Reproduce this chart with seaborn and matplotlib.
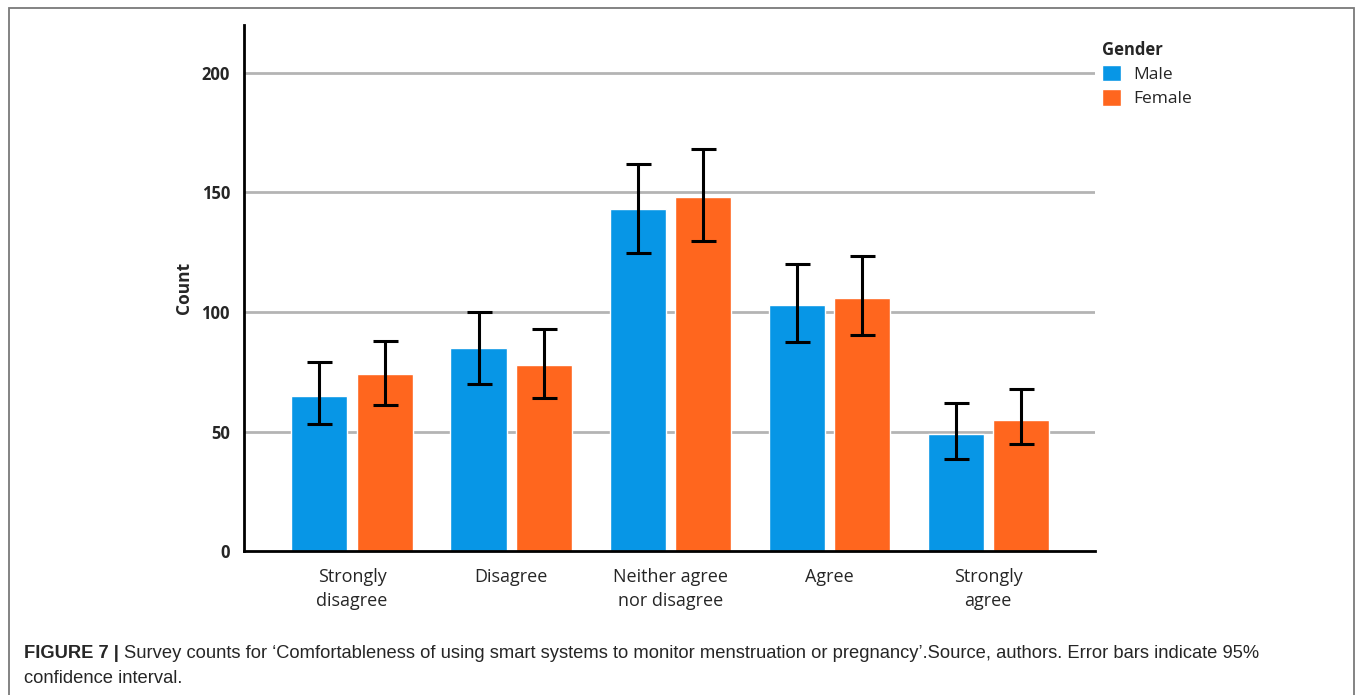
import pandas as pd
import numpy as np
import matplotlib.pyplot as plt
import seaborn as sns
from matplotlib.patches import Rectangle

# --- DATA ---
categories = ["Strongly\ndisagree", "Disagree", "Neither agree\nnor disagree", "Agree", "Strongly\nagree"]
genders = ["Male", "Female"]
male_counts = [65, 85, 143, 103, 49]
female_counts = [74, 78, 148, 106, 55]
male_ci_low = [53, 70, 124.5, 87.5, 38.5]
male_ci_high = [79, 100, 162, 120, 62]
female_ci_low = [61, 64, 129.5, 90.5, 45]
female_ci_high = [88, 93, 168, 123.5, 68]
y_ticks = [0, 50, 100, 150, 200]

palette = {"Male": "#0796E6", "Female": "#FF661E"}

df = pd.DataFrame({
    "Answer": categories * 2,
    "Gender": ["Male"] * len(categories) + ["Female"] * len(categories),
    "Count": male_counts + female_counts,
    "low": male_ci_low + female_ci_low,
    "high": male_ci_high + female_ci_high,
})

sns.set_style("white")
plt.rcParams["font.family"] = ["Open Sans", "DejaVu Sans"]

fig = plt.figure(figsize=(13.55, 6.95), dpi=100)
ax = fig.add_axes([0.180, 0.207, 0.628, 0.757])

sns.barplot(data=df, x="Answer", y="Count", hue="Gender", order=categories,
            hue_order=genders, palette=palette, errorbar=None,
            width=0.82, gap=0.14, saturation=1, ax=ax, zorder=2)

# error bar 95% CI, posisi dari bar seaborn
for container, g in zip(ax.containers, genders):
    sub = df[df["Gender"] == g].set_index("Answer").loc[categories]
    xs = [p.get_x() + p.get_width() / 2 for p in container.patches]
    yerr = [sub["Count"] - sub["low"], sub["high"] - sub["Count"]]
    ax.errorbar(xs, sub["Count"], yerr=yerr, fmt="none", ecolor="black",
                elinewidth=2.2, capsize=9, capthick=2.2, zorder=3)

ax.set_ylim(0, 220)
ax.set_xlim(-0.68, 4.67)
ax.set_yticks(y_ticks)
ax.set_yticklabels([str(t) for t in y_ticks], fontsize=12, fontweight="bold")
ax.tick_params(axis="y", length=0, pad=10)
ax.tick_params(axis="x", length=0, pad=12, labelsize=13)
for lbl in ax.get_xticklabels():
    lbl.set_linespacing(1.45)
ax.set_xlabel("")
ax.set_ylabel("Count", fontsize=12.5, fontweight="bold", labelpad=6)
for t in y_ticks[1:]:
    ax.axhline(t, color="#b4b4b4", lw=2, zorder=1)

for s in ["top", "right"]:
    ax.spines[s].set_visible(False)
for s in ["left", "bottom"]:
    ax.spines[s].set_color("black")
    ax.spines[s].set_linewidth(2)

leg = ax.legend(title="Gender", loc="upper left", bbox_to_anchor=(0.99, 1.0),
                frameon=False, fontsize=12.5, title_fontproperties={"weight": "bold", "size": 12},
                handlelength=1.1, handleheight=1.1, handletextpad=0.7, labelspacing=0.35)
leg._legend_box.align = "left"

# bingkai figure
fig.patches.append(Rectangle((9 / 1355, -0.01), 1345 / 1355, 1 - 8 / 695 + 0.01,
                             transform=fig.transFigure, fill=False,
                             edgecolor="#7a7a7a", lw=1.3))

# caption
fam = ["Liberation Sans", "DejaVu Sans"]
t1 = fig.text(0.0177, 0.053, "FIGURE 7 |", fontsize=13.2, fontweight="bold", family=fam, va="baseline")
fig.canvas.draw()
bb = t1.get_window_extent()
x2 = (bb.x1 + 5) / fig.bbox.width
fig.text(x2, 0.053, "Survey counts for \u2018Comfortableness of using smart systems to monitor menstruation or pregnancy\u2019.Source, authors. Error bars indicate 95%",
         fontsize=13.2, family=fam, va="baseline")
fig.text(0.0177, 0.017, "confidence interval.", fontsize=13.2, family=fam, va="baseline")

fig.savefig("out.png", dpi=100)
